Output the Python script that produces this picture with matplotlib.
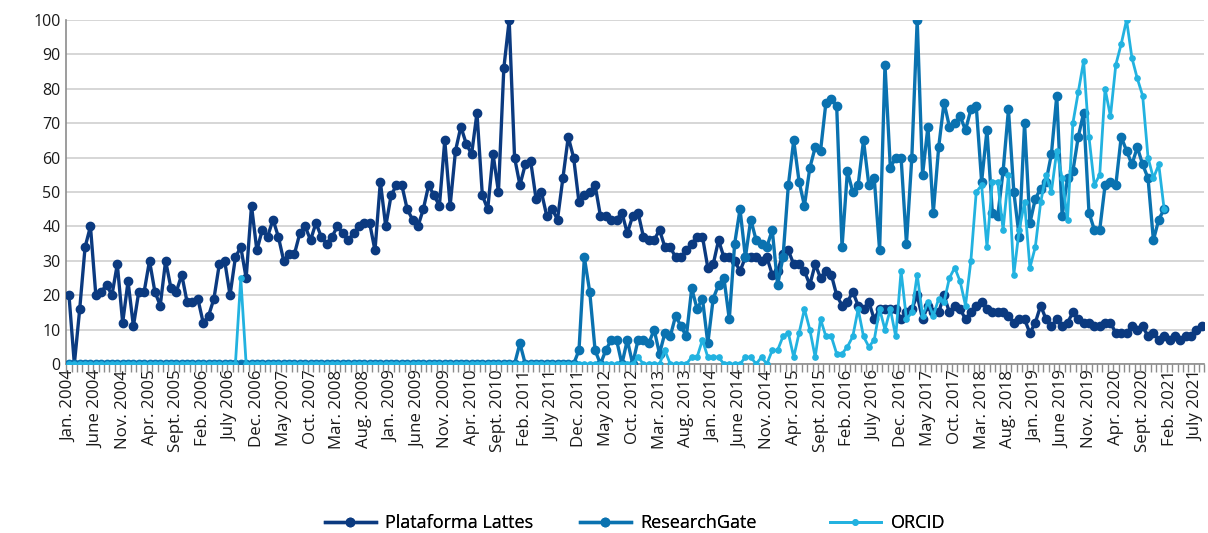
import matplotlib
matplotlib.use("Agg")
import matplotlib.pyplot as plt
import numpy as np

plt.rcParams['font.family'] = ['Open Sans', 'DejaVu Sans']

# Monthly values, Jan. 2004 .. Aug. 2021
lattes = [20, 0, 16, 34, 40, 20, 21, 23, 20, 29, 12, 24, 11, 21, 21, 30, 21, 17, 30,
          22, 21, 26, 18, 18, 19, 12, 14, 19, 29, 30, 20, 31, 34, 25, 46, 33, 39,
          37, 42, 37, 30, 32, 32, 38, 40, 36, 41, 37, 35, 37, 40, 38, 36, 38, 40, 41,
          41, 33, 53, 40, 49, 52, 52, 45, 42, 40, 45, 52, 49, 46, 65, 46, 62, 69, 64,
          61, 73, 49, 45, 61, 50, 86, 100, 60, 52, 58, 59, 48, 50, 43, 45, 42, 54, 66,
          60, 47, 49, 50, 52, 43, 43, 42, 42, 44, 38, 43, 44, 37, 36, 36, 39, 34,
          34, 31, 31, 33, 35, 37, 37, 28, 29, 36, 31, 31, 30, 27, 31, 31, 31, 30,
          31, 26, 27, 32, 33, 29, 29, 27, 23, 29, 25, 27, 26, 20, 17, 18, 21, 17, 16,
          18, 13, 16, 16, 16, 16, 13, 15, 16, 20, 13, 17, 15, 15, 20, 15, 17, 16, 13,
          15, 17, 18, 16, 15, 15, 15, 14, 12, 13, 13, 9, 12, 17, 13, 11, 13, 11,
          12, 15, 13, 12, 12, 11, 11, 12, 12, 9, 9, 9, 11, 10, 11, 8, 9, 7, 8,
          7, 8, 7, 8, 8, 10, 11]

researchgate = [0, 0, 0, 0, 0, 0, 0, 0, 0, 0, 0, 0, 0, 0, 0, 0, 0, 0, 0, 0,
                0, 0, 0, 0, 0, 0, 0, 0, 0, 0, 0, 0, 0, 0, 0, 0, 0, 0, 0, 0,
                0, 0, 0, 0, 0, 0, 0, 0, 0, 0, 0, 0, 0, 0, 0, 0, 0, 0, 0, 0,
                0, 0, 0, 0, 0, 0, 0, 0, 0, 0, 0, 0, 0, 0, 0, 0, 0, 0, 0, 0,
                0, 0, 0, 0, 6, 0, 0, 0, 0, 0, 0, 0, 0, 0, 0,
                4, 31, 21, 4, 0, 4, 7, 7, 0, 7, 0, 7, 7, 6, 10, 3, 9,
                8, 14, 11, 8, 22, 16, 19, 6, 19, 23, 25, 13, 35, 45, 31, 42, 36, 35,
                34, 39, 23, 31, 52, 65, 53, 46, 57, 63, 62, 76, 77, 75, 34, 56, 50, 52, 65,
                52, 54, 33, 87, 57, 60, 60, 35, 60, 100, 55, 69, 44, 63, 76, 69, 70, 72, 68,
                74, 75, 53, 68, 44, 43, 56, 74, 50, 37, 70, 41, 48, 51, 53, 61, 78, 43,
                54, 56, 66, 73, 44, 39, 39, 52, 53, 52, 66, 62, 58, 63, 58, 54, 36, 42, 45]

orcid = [0, 0, 0, 0, 0, 0, 0, 0, 0, 0, 0, 0, 0, 0, 0, 0, 0, 0, 0, 0,
         0, 0, 0, 0, 0, 0, 0, 0, 0, 0, 0, 0, 25, 0, 0, 0, 0, 0, 0, 0,
         0, 0, 0, 0, 0, 0, 0, 0, 0, 0, 0, 0, 0, 0, 0, 0, 0, 0, 0, 0,
         0, 0, 0, 0, 0, 0, 0, 0, 0, 0, 0, 0, 0, 0, 0, 0, 0, 0, 0, 0,
         0, 0, 0, 0, 0, 0, 0, 0, 0, 0, 0, 0, 0, 0, 0, 0, 0, 0, 0, 0,
         0, 0, 0, 0, 0, 0, 2, 0, 0, 0, 0, 4,
         0, 0, 0, 0, 2, 2, 7, 2, 2, 2, 0, 0, 0, 0, 2, 2, 0, 2,
         0, 4, 4, 8, 9, 2, 9, 16, 10, 2, 13, 8, 8, 3, 3, 5, 8, 16, 8,
         5, 7, 16, 10, 16, 8, 27, 13, 15, 26, 14, 18, 14, 19, 18, 25, 28, 24, 17,
         30, 50, 52, 34, 53, 53, 39, 55, 26, 39, 47, 28, 34, 47, 55, 50, 62, 54,
         42, 70, 79, 88, 66, 52, 55, 80, 72, 87, 93, 100, 89, 83, 78, 60, 54, 58, 45]

tick_labels = ["Jan. 2004", "June 2004", "Nov. 2004", "Apr. 2005", "Sept. 2005", "Feb. 2006",
               "July 2006", "Dec. 2006", "May 2007", "Oct. 2007", "Mar. 2008", "Aug. 2008",
               "Jan. 2009", "June 2009", "Nov. 2009", "Apr. 2010", "Sept. 2010", "Feb. 2011",
               "July 2011", "Dec. 2011", "May 2012", "Oct. 2012", "Mar. 2013", "Aug. 2013",
               "Jan. 2014", "June 2014", "Nov. 2014", "Apr. 2015", "Sept. 2015", "Feb. 2016",
               "July 2016", "Dec. 2016", "May 2017", "Oct. 2017", "Mar. 2018", "Aug. 2018",
               "Jan. 2019", "June 2019", "Nov. 2019", "Apr. 2020", "Sept. 2020", "Feb. 2021",
               "July 2021"]

n_months = len(lattes)

C_LATTES = "#0b3a80"
C_RG = "#0a72b0"
C_ORCID = "#22b2e0"

fig = plt.figure(figsize=(12.08, 5.33), dpi=100)
ax = fig.add_axes([66.3 / 1208, (533 - 364) / 533, (1204.4 - 66.3) / 1208, 344 / 533])

x_l = np.arange(len(lattes))
x_r = np.arange(len(researchgate))
x_o = np.arange(len(orcid))

h1, = ax.plot(x_l, lattes, color=C_LATTES, lw=2.4, marker='o', ms=6.0, label="Plataforma Lattes",
              solid_joinstyle='round', zorder=3)
h2, = ax.plot(x_r, researchgate, color=C_RG, lw=2.4, marker='o', ms=6.0, label="ResearchGate",
              solid_joinstyle='round', zorder=4)
h3, = ax.plot(x_o, orcid, color=C_ORCID, lw=2.0, marker='o', ms=3.8, label="ORCID",
              solid_joinstyle='round', zorder=5)

ax.set_xlim(-0.5, n_months - 0.5)
ax.set_ylim(0, 100)
ax.set_yticks(np.arange(0, 101, 10))
ax.yaxis.grid(True, color="#d0d0d0", lw=1.2)
ax.set_axisbelow(True)

ax.set_xticks(np.arange(0, 5 * len(tick_labels), 5))
ax.set_xticklabels(tick_labels, rotation=90, fontsize=12.2, color="#1a1a1a")
ax.set_xticks(np.arange(-0.5, n_months, 1), minor=True)
ax.tick_params(axis='x', which='major', length=0, pad=4)
ax.tick_params(axis='x', which='minor', length=6, width=1, color="#8c8c8c")
ax.tick_params(axis='y', length=0, labelsize=11.5, labelcolor="#1a1a1a", pad=4)

for s in ['top', 'right']:
    ax.spines[s].set_visible(False)
ax.spines['left'].set_color("#8c8c8c")
ax.spines['bottom'].set_color("#8c8c8c")
ax.spines['left'].set_linewidth(1.2)
ax.spines['bottom'].set_linewidth(1.2)

legend_y = 1 - 523 / 533
for handle, x_px in zip([h1, h2, h3], [325, 580, 830]):
    leg = fig.legend(handles=[handle], loc='center left', bbox_to_anchor=(x_px / 1208, legend_y),
                     frameon=False, fontsize=13, handlelength=2.8, handletextpad=0.55,
                     borderpad=0, borderaxespad=0)
    fig.add_artist(leg)

fig.savefig("out.png", dpi=100)
